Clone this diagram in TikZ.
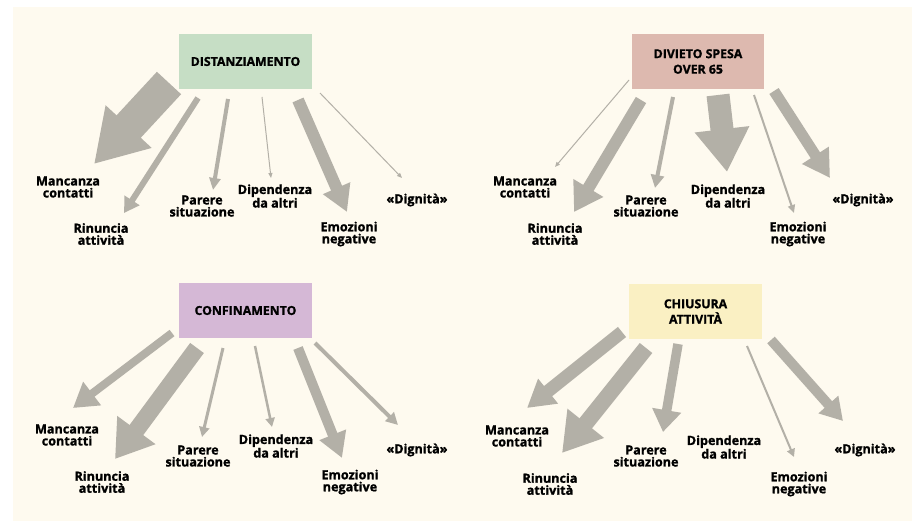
\documentclass[tikz,border=0pt]{standalone}
\usepackage{fontspec}
\setmainfont{Open Sans}[BoldFeatures={FakeBold=1.3}]
\usetikzlibrary{arrows.meta}
\definecolor{cream}{HTML}{FEFAEF}
\definecolor{agray}{HTML}{B3B0A7}
\definecolor{bgreen}{HTML}{C6DEC5}
\definecolor{bpink}{HTML}{DDB9AF}
\definecolor{blilac}{HTML}{D5B8D6}
\definecolor{byellow}{HTML}{FAF0C3}
\tikzset{
  lab/.style={align=center, inner sep=0pt, font=\fontsize{12.6}{12}\selectfont\bfseries},
  boxnode/.style={inner sep=0pt, minimum width=133pt, minimum height=55pt, align=center,
    font=\fontsize{12.3}{15.5}\selectfont\bfseries},
  fat/.style n args={3}{draw=agray, line width=#1pt, line cap=butt,
    -{Triangle[width=#2pt, length=#3pt]}},
}
\begin{document}
\begin{tikzpicture}[x=1pt,y=-1pt]
\useasboundingbox (0,0) rectangle (912,521);
\fill[cream] (13,7) rectangle (912,521);

% ---------- Q1 ----------
\node[boxnode, fill=bgreen] (b1) at (245.5,61.5) {DISTANZIAMENTO};
\node[lab] (l1a) at (68,187) {Mancanza\\contatti};
\node[lab] (l1b) at (101,234) {Rinuncia\\attività};
\node[lab] (l1c) at (202,206) {Parere\\situazione};
\node[lab] (l1d) at (275,196) {Dipendenza\\da altri};
\node[lab] (l1e) at (349,234) {Emozioni\\negative};
\node[lab] (l1f) at (417,200) {«Dignità»};
\coordinate (t1a) at (169,83);  \coordinate (h1a) at (94,164);
\coordinate (t1b) at (198,98);  \coordinate (h1b) at (124,213);
\coordinate (t1c) at (228,99);  \coordinate (h1c) at (213,190);
\coordinate (t1d) at (262,97);  \coordinate (h1d) at (271,178);
\coordinate (t1e) at (298,100); \coordinate (h1e) at (347,212);
\coordinate (t1f) at (320,93);  \coordinate (h1f) at (402,178);
\draw[fat={33}{59}{51}] (t1a) -- (h1a);
\draw[fat={6}{17}{15}] (t1b) -- (h1b);
\draw[fat={4}{11}{12}] (t1c) -- (h1c);
\draw[fat={1}{4}{5}] (t1d) -- (h1d);
\draw[fat={12}{28}{26}] (t1e) -- (h1e);
\draw[fat={1}{4}{5}] (t1f) -- (h1f);

% ---------- Q2 ----------
\node[boxnode, fill=bpink, minimum width=132pt] (b2) at (698,61.5) {DIVIETO SPESA\\OVER 65};
\node[lab] (l2a) at (525,187) {Mancanza\\contatti};
\node[lab] (l2b) at (555,234) {Rinuncia\\attività};
\node[lab] (l2c) at (646,206) {Parere\\situazione};
\node[lab] (l2d) at (728,196) {Dipendenza\\da altri};
\node[lab] (l2e) at (798,234) {Emozioni\\negative};
\node[lab] (l2f) at (863,200) {«Dignità»};
\coordinate (t2a) at (629,80);  \coordinate (h2a) at (555,167);
\coordinate (t2b) at (641,100); \coordinate (h2b) at (574,212);
\coordinate (t2c) at (673,97);  \coordinate (h2c) at (655,188);
\coordinate (t2d) at (718,95);  \coordinate (h2d) at (727,172);
\coordinate (t2e) at (754,95);  \coordinate (h2e) at (794,213);
\coordinate (t2f) at (774,91);  \coordinate (h2f) at (830,178);
\draw[fat={1}{4}{5}] (t2a) -- (h2a);
\draw[fat={12}{33}{28}] (t2b) -- (h2b);
\draw[fat={4}{13}{13}] (t2c) -- (h2c);
\draw[fat={23}{52}{43}] (t2d) -- (h2d);
\draw[fat={2}{7}{8}] (t2e) -- (h2e);
\draw[fat={11}{30}{27}] (t2f) -- (h2f);

% ---------- Q3 ----------
\node[boxnode, fill=blilac] (b3) at (245.5,310.5) {CONFINAMENTO};
\node[lab] (l3a) at (67,435) {Mancanza\\contatti};
\node[lab] (l3b) at (102,482) {Rinuncia\\attività};
\node[lab] (l3c) at (198,456) {Parere\\situazione};
\node[lab] (l3d) at (276,446) {Dipendenza\\da altri};
\node[lab] (l3e) at (350,482) {Emozioni\\negative};
\node[lab] (l3f) at (417,450) {«Dignità»};
\coordinate (t3a) at (172,333); \coordinate (h3a) at (73,408);
\coordinate (t3b) at (197,348); \coordinate (h3b) at (115,459);
\coordinate (t3c) at (223,348); \coordinate (h3c) at (202,437);
\coordinate (t3d) at (255,346); \coordinate (h3d) at (272,427);
\coordinate (t3e) at (298,348); \coordinate (h3e) at (342,458);
\coordinate (t3f) at (315,343); \coordinate (h3f) at (398,425);
\draw[fat={8}{28}{24}] (t3a) -- (h3a);
\draw[fat={17}{45}{36}] (t3b) -- (h3b);
\draw[fat={3}{10}{10}] (t3c) -- (h3c);
\draw[fat={2.5}{9}{9}] (t3d) -- (h3d);
\draw[fat={10}{27}{25}] (t3e) -- (h3e);
\draw[fat={4}{12}{12}] (t3f) -- (h3f);

% ---------- Q4 ----------
\node[boxnode, fill=byellow] (b4) at (695.5,311.5) {CHIUSURA\\ATTIVITÀ};
\node[lab] (l4a) at (517,436) {Mancanza\\contatti};
\node[lab] (l4b) at (550,484) {Rinuncia\\attività};
\node[lab] (l4c) at (646,456) {Parere\\situazione};
\node[lab] (l4d) at (724,447) {Dipendenza\\da altri};
\node[lab] (l4e) at (799,484) {Emozioni\\negative};
\node[lab] (l4f) at (865,450) {«Dignità»};
\coordinate (t4a) at (622,332); \coordinate (h4a) at (527,408);
\coordinate (t4b) at (646,348); \coordinate (h4b) at (562,453);
\coordinate (t4c) at (678,344); \coordinate (h4c) at (663,432);
\coordinate (t4e) at (747,346); \coordinate (h4e) at (794,457);
\coordinate (t4f) at (771,340); \coordinate (h4f) at (843,421);
\draw[fat={13}{30}{27}] (t4a) -- (h4a);
\draw[fat={16}{44}{38}] (t4b) -- (h4b);
\draw[fat={9.5}{28}{22}] (t4c) -- (h4c);
\draw[fat={2}{8}{8}] (t4e) -- (h4e);
\draw[fat={10}{25}{22}] (t4f) -- (h4f);
\end{tikzpicture}
\end{document}
